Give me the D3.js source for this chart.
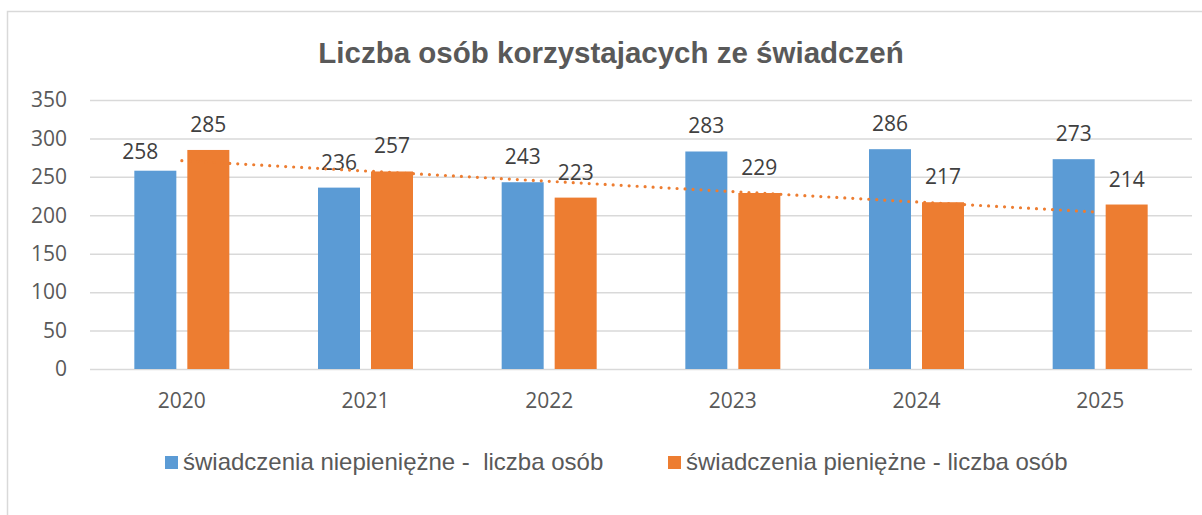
<!DOCTYPE html>
<html>
<head>
<meta charset="utf-8">
<script src="https://cdn.jsdelivr.net/npm/d3@7"></script>
<style>
body{margin:0;background:#fff;}
svg{display:block;}
</style>
</head>
<body>
<svg id="chart" width="1202" height="515"></svg>
<script>
var title = "Liczba osób korzystajacych ze świadczeń";
var years = ["2020", "2021", "2022", "2023", "2024", "2025"];
var seriesNames = ["świadczenia niepieniężne -  liczba osób", "świadczenia pieniężne - liczba osób"];
var niepieniezne = [258, 236, 243, 283, 286, 273];
var pieniezne = [285, 257, 223, 229, 217, 214];
var yTicks = [0, 50, 100, 150, 200, 250, 300, 350];
var colors = ["#5b9bd5", "#ed7d31"];

var svg = d3.select("#chart");
var margin = {top: 100, right: 10, bottom: 146, left: 90};
var width = 1192 - margin.left, height = 369 - margin.top;

// chart border
svg.append("rect")
	.attr("x", 7.5).attr("y", 11.5)
	.attr("width", 1220).attr("height", 540)
	.attr("fill", "#fff").attr("stroke", "#d9d9d9").attr("stroke-width", 1.5);

svg.append("text")
	.attr("x", 611).attr("y", 63)
	.attr("text-anchor", "middle")
	.attr("font-family", "Liberation Sans, Arial, sans-serif")
	.attr("font-weight", "bold")
	.attr("font-size", 29.5)
	.attr("fill", "#595959")
	.text(title);

var g = svg.append("g").attr("transform", "translate(" + margin.left + "," + margin.top + ")");

var x = d3.scaleBand().domain(years).range([0, width]);
var y = d3.scaleLinear().domain([0, 350]).range([height, 0]);

// grid
g.append("g").selectAll("line").data(yTicks).enter().append("line")
	.attr("x1", 0).attr("x2", width)
	.attr("y1", function(d){ return y(d) + 0.5; })
	.attr("y2", function(d){ return y(d) + 0.5; })
	.attr("stroke", "#d9d9d9").attr("stroke-width", 1.5);

// y axis labels
var yAxis = d3.axisLeft(y).tickValues(yTicks).tickSize(0).tickPadding(23);
var ya = g.append("g").call(yAxis);
ya.select(".domain").remove();
ya.selectAll("text")
	.attr("font-family", "Open Sans, sans-serif")
	.attr("font-size", 21)
	.attr("fill", "#595959");

// x axis labels
var xAxis = d3.axisBottom(x).tickSize(0).tickPadding(24);
var xa = g.append("g").attr("transform", "translate(0," + height + ")").call(xAxis);
xa.select(".domain").remove();
xa.selectAll("text")
	.attr("font-family", "Open Sans, sans-serif")
	.attr("font-size", 21)
	.attr("fill", "#595959");

var barW = 42, gap = 11;
var series = [niepieniezne, pieniezne];
series.forEach(function(vals, si){
	var offset = si == 0 ? -(gap / 2 + barW) : gap / 2;
	g.append("g").selectAll("rect").data(vals).enter().append("rect")
		.attr("x", function(d, i){ return x(years[i]) + x.bandwidth() / 2 + offset; })
		.attr("y", function(d){ return y(d); })
		.attr("width", barW)
		.attr("height", function(d){ return height - y(d); })
		.attr("fill", colors[si]);
	g.append("g").selectAll("text").data(vals).enter().append("text")
		.attr("x", function(d, i){
			var cx = x(years[i]) + x.bandwidth() / 2 + offset + barW / 2;
			// first label was moved aside by hand in the original
			return (si == 0 && i == 0) ? cx - 15 : cx;
		})
		.attr("y", function(d, i){ return y(d) - ((si == 0 && i == 0) ? 12 : 18); })
		.attr("text-anchor", "middle")
		.attr("font-family", "Open Sans, sans-serif")
		.attr("font-size", 21)
		.attr("fill", "#404040")
		.text(function(d){ return d; });
});

// linear trend of the second series
var n = pieniezne.length, mx = (n - 1) / 2, my = d3.mean(pieniezne);
var sxy = 0, sxx = 0;
pieniezne.forEach(function(v, i){ sxy += (i - mx) * (v - my); sxx += (i - mx) * (i - mx); });
var slope = sxy / sxx, icpt = my - slope * mx;
var trend = years.map(function(yr, i){ return {yr: yr, v: icpt + slope * i}; });
var line = d3.line()
	.x(function(d){ return x(d.yr) + x.bandwidth() / 2; })
	.y(function(d){ return y(d.v); });
g.append("path")
	.datum(trend)
	.attr("fill", "none")
	.attr("stroke", colors[1])
	.attr("stroke-width", 3.2)
	.attr("stroke-linecap", "round")
	.attr("stroke-dasharray", "0 8")
	.attr("d", line);

// legend
var legX = [165, 668];
seriesNames.forEach(function(name, i){
	svg.append("rect")
		.attr("x", legX[i]).attr("y", 456)
		.attr("width", 13).attr("height", 13)
		.attr("fill", colors[i]);
	svg.append("text")
		.attr("x", legX[i] + 18).attr("y", 470)
		.attr("font-family", "Liberation Sans, Arial, sans-serif")
		.attr("font-size", 24)
		.attr("fill", "#595959")
		.attr("xml:space", "preserve")
		.style("white-space", "pre")
		.text(name);
});
</script>
</body>
</html>
